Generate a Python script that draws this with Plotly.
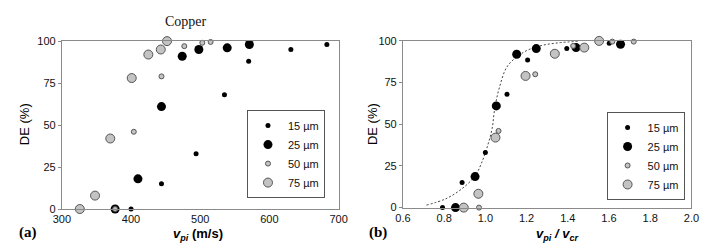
import plotly.graph_objects as go

# ---------------- data ----------------
sizes = ["15 µm", "25 µm", "50 µm", "75 µm"]

# (a) deposition efficiency vs particle impact velocity (m/s)
v15 = [400, 444, 494, 535, 570, 631, 683]
de15 = [0, 15, 33, 68, 88, 95, 98]
v25 = [377, 410, 444, 474, 498, 539, 571]
de25 = [0, 18, 61, 91, 95, 96, 98]
v50 = [377, 404, 444, 477, 503, 515]
de50 = [0, 46, 79, 97, 99, 99.5]
v75 = [326, 348, 370, 401, 425, 443, 452]
de75 = [0, 8, 42, 78, 92, 95, 100]

# (b) deposition efficiency vs v_pi / v_cr
r15 = [0.792, 0.887, 1.0, 1.105, 1.205, 1.395, 1.601]
rde15 = [0, 15, 33, 68, 88.5, 95.5, 98.6]
r25 = [0.855, 0.95, 1.053, 1.152, 1.247, 1.44, 1.656]
rde25 = [0, 18.6, 61, 92, 95.4, 96, 98]
r50 = [0.969, 1.064, 1.242, 1.426, 1.616, 1.72]
rde50 = [0, 46, 80, 97, 99.6, 99.6]
r75 = [0.895, 0.966, 1.049, 1.195, 1.337, 1.48, 1.552]
rde75 = [0, 8.3, 42, 79, 92.3, 96, 100]

# fitted trend line in (b)
fit_x = [0.714, 0.808, 0.887, 0.95, 0.981, 1.013, 1.033, 1.045, 1.068, 1.108,
         1.187, 1.265, 1.35, 1.455]
fit_y = [1.5, 5.3, 11.4, 19, 26.6, 38, 47.6, 59, 72, 85, 93.3, 97, 98.8, 99.8]

x_ticks_a = [300, 400, 500, 600, 700]
x_ticks_b = [0.6, 0.8, 1.0, 1.2, 1.4, 1.6, 1.8, 2.0]
y_ticks = [0, 25, 50, 75, 100]

# ---------------- styling ----------------
W, H = 709, 247
SANS = "Liberation Sans, Arial, sans-serif"
SERIF = "Liberation Serif, Times New Roman, serif"
AX = "#8a8a8a"
GRAY = "#c3c3c3"
EDGE = "#555555"

styles = [
    dict(size=5, color="black", line=dict(width=0)),
    dict(size=9, color="black", line=dict(width=0)),
    dict(size=5, color=GRAY, line=dict(width=1, color=EDGE)),
    dict(size=9, color=GRAY, line=dict(width=1, color=EDGE)),
]

fig = go.Figure()

left = [(v15, de15), (v25, de25), (v50, de50), (v75, de75)]
right = [(r15, rde15), (r25, rde25), (r50, rde50), (r75, rde75)]

fig.add_trace(go.Scatter(x=fit_x, y=fit_y, mode="lines", line_shape="spline",
                         line=dict(color="#444444", width=1, dash="2px,2px"),
                         xaxis="x2", yaxis="y2", showlegend=False, hoverinfo="skip"))

for name, (xs, ys), st in zip(sizes, left, styles):
    fig.add_trace(go.Scatter(x=xs, y=ys, mode="markers", name=name, marker=st,
                             xaxis="x", yaxis="y", legend="legend", cliponaxis=False))
for name, (xs, ys), st in zip(sizes, right, styles):
    fig.add_trace(go.Scatter(x=xs, y=ys, mode="markers", name=name, marker=st,
                             xaxis="x2", yaxis="y2", legend="legend2", cliponaxis=False))

base = dict(showline=True, mirror=True, linecolor=AX, linewidth=1,
            tickcolor=AX, showgrid=False, zeroline=False,
            tickfont=dict(family=SANS, size=11, color="#111"))
xcommon = dict(base, ticks="")
ycommon = dict(base, ticks="outside", ticklen=3)

def px_x(p):
    return p / W

def px_y(p):
    return 1 - p / H

leg = dict(xanchor="right", yanchor="top", bordercolor=EDGE, borderwidth=1,
           bgcolor="white", font=dict(family=SANS, size=11, color="#111"), itemwidth=30)

fig.update_layout(
    width=W, height=H, margin=dict(l=0, r=0, t=0, b=0),
    paper_bgcolor="white", plot_bgcolor="white",
    xaxis=dict(domain=[px_x(46), px_x(330)], range=[300, 700], tickvals=x_ticks_a,
               anchor="y", **xcommon),
    yaxis=dict(domain=[px_y(205), px_y(28.5)], range=[0, 100], tickvals=y_ticks,
               anchor="x", **ycommon),
    xaxis2=dict(domain=[px_x(396), px_x(692)], range=[0.6, 2.0], tickvals=x_ticks_b,
                tickformat=".1f", anchor="y2", **xcommon),
    yaxis2=dict(domain=[px_y(203.5), px_y(28.3)], range=[0, 100], tickvals=y_ticks,
                anchor="x2", **ycommon),
    legend=dict(leg, x=px_x(316), y=px_y(101)),
    legend2=dict(leg, x=px_x(685), y=px_y(103)),
    showlegend=True,
)

ann = [
    dict(text="Copper", x=px_x(173), y=px_y(8), font=dict(family=SERIF, size=14, color="#111")),
    dict(text="<b>(a)</b>", x=px_x(11), y=px_y(230), font=dict(family=SERIF, size=15, color="black")),
    dict(text="<b>(b)</b>", x=px_x(370), y=px_y(230), font=dict(family=SERIF, size=15, color="black")),
    dict(text="DE (%)", x=px_x(8), y=px_y(116), textangle=-90,
         font=dict(family=SANS, size=13, color="black")),
    dict(text="DE (%)", x=px_x(365), y=px_y(116), textangle=-90,
         font=dict(family=SANS, size=13, color="black")),
    dict(text="<b><i>v</i><sub><i>pi</i></sub> (m/s)</b>", x=px_x(186), y=px_y(232),
         font=dict(family=SANS, size=13, color="black")),
    dict(text="<b><i>v</i><sub><i>pi</i></sub><i> / v</i><sub><i>cr</i></sub></b>",
         x=px_x(554), y=px_y(232), font=dict(family=SANS, size=13, color="black")),
]
for a in ann:
    a.update(xref="paper", yref="paper", showarrow=False, xanchor="center", yanchor="middle")
fig.update_layout(annotations=ann)

fig.write_html("out.html")
